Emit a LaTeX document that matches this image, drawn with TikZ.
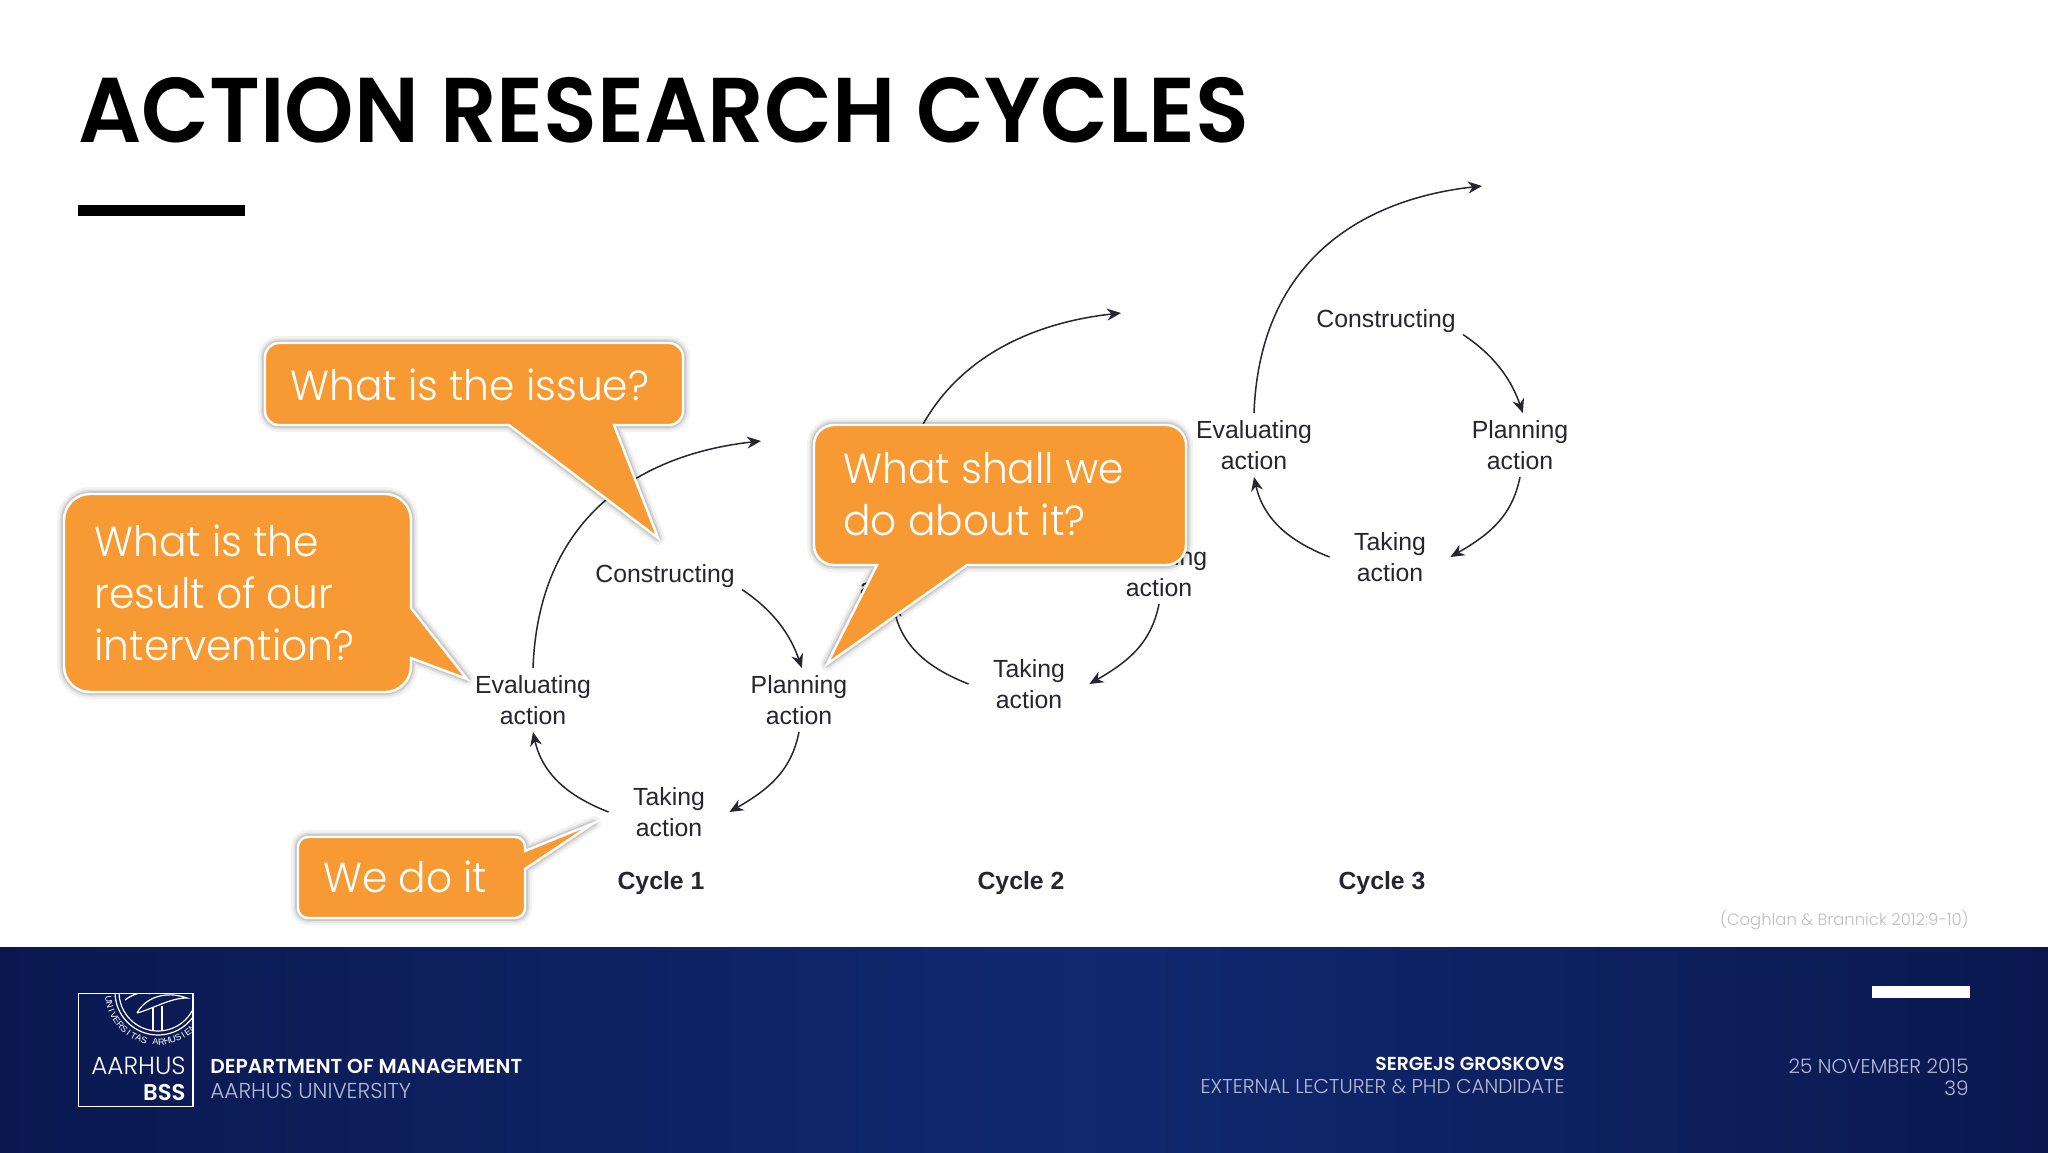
\documentclass[tikz,border=0pt]{standalone}
\usepackage{fontspec}
\usepackage{tikz}
\usetikzlibrary{arrows.meta}
\setmainfont{Liberation Sans}
\newfontfamily\slidefont{Poppins SemiBold}
\newfontfamily\titlefont{Poppins SemiBold}[FakeStretch=0.96]
\newfontfamily\lightfont{Poppins Light}
\newfontfamily\bubblefont{Poppins Light}[FakeStretch=0.97]
\definecolor{calloutorange}{HTML}{F89A33}
\definecolor{navyedge}{HTML}{0B1850}
\definecolor{navymid}{HTML}{10296F}
\definecolor{cycletext}{HTML}{26262E}
\definecolor{footgrey}{HTML}{B4BCD6}
\tikzset{
  cyclelabel/.style={font=\fontsize{12.4}{15.5}\selectfont, text=cycletext, align=center, inner sep=3.5pt},
  cycletitle/.style={font=\fontsize{12.4}{15.5}\selectfont\bfseries, text=cycletext},
  cyclearrow/.style={draw=cycletext, line width=0.75pt, -{Stealth[length=7pt,width=6pt]}},
  softedge/.style={draw=black, draw opacity=#1, line join=round},
  bubble/.style={
    preaction={softedge=.05, line width=7pt},
    preaction={softedge=.07, line width=4.5pt},
    preaction={softedge=.10, line width=2.8pt},
    fill=calloutorange, draw=white, line width=1.2pt, line join=miter},
  bubbletext/.style={font=\bubblefont\fontsize{21}{26}\selectfont, text=white, align=left, inner sep=0pt},
  footbold/.style={font=\slidefont\fontsize{10.1}{12}\selectfont, text=white, inner sep=0pt},
  footlight/.style={font=\lightfont\fontsize{10}{12}\selectfont, text=footgrey, inner sep=0pt},
  sealletter/.style={font=\fontsize{4.5}{5}\selectfont, text=white, inner sep=0pt}
}
\begin{document}
\begin{tikzpicture}[x=0.5pt,y=-0.5pt]
\useasboundingbox (0,0) rectangle (2048,1152);
\fill [white] (0,0) rectangle (2048,1152);
% title
\node (title) [anchor=base west, inner sep=0pt, font=\titlefont\fontsize{46}{50}\selectfont] at (78,142) {ACTION RESEARCH CYCLES};
\fill (78,205) rectangle (245,216);
% the three cycles
\foreach \c/\dx/\dy in {1/0/0,2/360/-128,3/721/-255}{
  \begin{scope}[shift={(\dx,\dy)}]
  \node (cons\c) [cyclelabel] at (665,576) {Constructing};
  \node (plan\c) [cyclelabel] at (799,700) {Planning\\action};
  \node (take\c) [cyclelabel, minimum width=60pt] at (669,812) {Taking\\action};
  \node (eval\c) [cyclelabel] at (533,700) {Evaluating\\action};
  \coordinate (next\c) at (761,441);
  \draw [cyclearrow] (cons\c.-10) .. controls +(30,20) and +(-12,-35) .. (plan\c.85);
  \draw [cyclearrow] (plan\c.south) .. controls +(-8,40) and +(38,-22) .. (take\c.east);
  \draw [cyclearrow] (take\c.west) .. controls +(-36,-14) and +(10,45) .. (eval\c.south);
  \draw [cyclearrow] (eval\c.north) .. controls +(6,-160) and +(-110,12) .. (next\c);
  \end{scope}
}
\node (cyc1) [cycletitle] at (661,883) {Cycle 1};
\node (cyc2) [cycletitle] at (1021,883) {Cycle 2};
\node (cyc3) [cycletitle] at (1382,883) {Cycle 3};
% callouts
\path [bubble, rounded corners=7pt] (400,343) -- (683,343) -- (683,425) [sharp corners] -- (614,425) -- (658,538) -- (509,425) [rounded corners=7pt] -- (265,425) -- (265,343) -- cycle;
\path [bubble, rounded corners=13pt] (200,494) -- (411,494) [sharp corners] -- (411,608) -- (467,679) -- (411,658) [rounded corners=13pt] -- (411,692) -- (64,692) -- (64,494) -- cycle;
\path [bubble, rounded corners=10pt] (1000,425) -- (1186,425) -- (1186,565) [sharp corners] -- (967,565) -- (827,664) -- (877,565) [rounded corners=10pt] -- (814,565) -- (814,425) -- cycle;
\path [bubble, rounded corners=5pt] (400,837) -- (525,837) [sharp corners] -- (525,851) -- (594,823) -- (525,869) [rounded corners=5pt] -- (525,918) -- (298,918) -- (298,837) -- cycle;
\node (issue) [bubbletext, anchor=base west] at (290,400) {What is the issue?};
\node (result) [bubbletext, anchor=base west] at (94,660) {What is the\\result of our\\intervention?};
\node (shall) [bubbletext, anchor=base west] at (843,535) {What shall we\\do about it?};
\node (dowe) [bubbletext, anchor=base west] at (323,892) {We do it};
\node (source) [anchor=base east, inner sep=0pt, text=black!25, font=\lightfont\fontsize{8.2}{10}\selectfont] at (1969,925) {(Coghlan \& Brannick 2012:9-10)};
% footer
\shade [left color=navyedge, right color=navymid] (0,947) rectangle (1080,1152);
\shade [left color=navymid, right color=navyedge] (1080,947) rectangle (2048,1152);
\draw [white, line width=0.8pt] (78.5,993.5) rectangle (193,1106.5);
\begin{scope}
\clip (79,994) rectangle (192.5,1106);
\draw [white, line width=0.6pt] (158,992) circle (43);
\draw [white, line width=0.6pt] (158,992) circle (39);
% dolphins
\draw [white, line width=0.6pt] (137,1013) .. controls (145,998) and (165,990) .. (187,998) .. controls (170,998) and (155,1008) .. (137,1013);
\draw [white, line width=0.6pt] (125,1000) .. controls (135,992) and (150,990) .. (150,994);
\draw [white, line width=0.6pt] (153,1008) -- (153,1031) (162,1006) -- (162,1031);
\foreach \l [count=\i, evaluate=\i as \a using 178.6-6.6*\i] in {U,N,I,V,E,R,S,I,T,A,S,{},A,R,H,U,S,I,E,N,S,I,S}
  \node (seal\i) [sealletter, rotate=90-\a] at ({158+50*cos(\a)},{992+50*sin(\a)}) {\l};
\end{scope}
\node (aarhus) [anchor=base east, inner sep=0pt, text=white, font=\lightfont\fontsize{12.4}{14}\selectfont] at (186,1074) {AARHUS};
\node (bss) [anchor=base east, inner sep=0pt, text=white, font=\slidefont\fontsize{11.4}{14}\selectfont] at (186,1100) {BSS};
\node (dept) [footbold, anchor=base west] at (210,1073) {DEPARTMENT OF MANAGEMENT};
\node (univ) [footlight, anchor=base west, font=\lightfont\fontsize{10.8}{12}\selectfont] at (210,1098) {AARHUS UNIVERSITY};
\node (lecturer) [footbold, anchor=base east, font=\slidefont\fontsize{9.4}{12}\selectfont] at (1565,1070) {SERGEJS GROSKOVS};
\node (role) [footlight, anchor=base east] at (1565,1093) {EXTERNAL LECTURER \& PHD CANDIDATE};
\fill [white] (1872,986) rectangle (1970,998);
\node (date) [footlight, anchor=base east] at (1969,1073) {25 NOVEMBER 2015};
\node (page) [footlight, anchor=base east] at (1969,1095) {39};
\end{tikzpicture}
\end{document}
